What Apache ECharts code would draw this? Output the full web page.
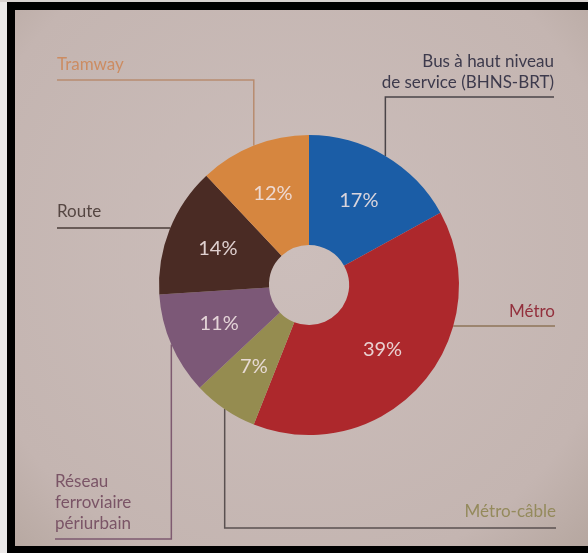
<!DOCTYPE html>
<html>
<head>
<meta charset="utf-8">
<script src="https://cdn.jsdelivr.net/npm/echarts@6/dist/echarts.min.js"></script>
<style>
html, body { margin: 0; padding: 0; background: #e4e0e0; }
#main { width: 588px; height: 553px; }
</style>
</head>
<body>
<div id="main"></div>
<script>
// données (sens horaire depuis le haut)
var names = ['Bus à haut niveau\nde service (BHNS-BRT)', 'Métro', 'Métro-câble', 'Réseau\nferroviaire\npériurbain', 'Route', 'Tramway'];
var values = [17, 39, 7, 11, 14, 12];

// styles
var colors = ['#1b5da6', '#ad282c', '#958c50', '#7c5877', '#4a2b24', '#d6863f'];
var textColors = ['#3d3a4c', '#93303d', '#948a5c', '#7a5466', '#554642', '#cc8c62'];
var lineColors = ['#4a4448', '#8e7458', '#5a5050', '#7e5a70', '#4a3c38', '#b88c70'];

// position des étiquettes : x ancre, bas du texte, y du trait, mode du trait
var labelPos = [
  { x: 554, y: 93, ly: 97, align: 'right', mode: 'v' },
  { x: 555, y: 322, ly: 326, align: 'right', mode: 'h' },
  { x: 556, y: 522, ly: 528, align: 'right', mode: 'v' },
  { x: 55, y: 534, ly: 539, align: 'left', mode: 'v' },
  { x: 57, y: 222, ly: 228, align: 'left', mode: 'h' },
  { x: 57, y: 75, ly: 80, align: 'left', mode: 'v' }
];

var cx = 309, cy = 285, R = 150, r0 = 40;
var font = 'Lato, "Open Sans", sans-serif';

var pieData = names.map(function (n, i) {
  return { name: n, value: values[i], itemStyle: { color: colors[i] } };
});
var labelData = names.map(function (n, i) {
  return {
    name: n, value: values[i],
    label: { color: textColors[i] },
    labelLine: { lineStyle: { color: lineColors[i] } }
  };
});

var chart = echarts.init(document.getElementById('main'));
chart.setOption({
  backgroundColor: {
    type: 'radial', x: 0.5, y: 0.45, r: 0.8,
    colorStops: [{ offset: 0, color: '#ccbebb' }, { offset: 0.75, color: '#c4b5b1' }, { offset: 1, color: '#b2a39b' }]
  },
  animation: false,
  graphic: [
    { type: 'rect', shape: { x: 0, y: 0, width: 7, height: 553 }, style: { fill: '#ebe8e8' }, z: 100 },
    { type: 'rect', shape: { x: 0, y: 0, width: 588, height: 2 }, style: { fill: '#d8d2d0' }, z: 100 },
    { type: 'rect', shape: { x: 7, y: 2, width: 8, height: 551 }, style: { fill: '#000' }, z: 100 },
    { type: 'rect', shape: { x: 7, y: 2, width: 581, height: 8 }, style: { fill: '#000' }, z: 100 },
    { type: 'rect', shape: { x: 7, y: 546, width: 581, height: 7 }, style: { fill: '#000' }, z: 100 }
  ],
  series: [
    {
      type: 'pie',
      center: [cx, cy],
      radius: [r0, R],
      startAngle: 90,
      clockwise: true,
      silent: true,
      label: {
        position: 'inside',
        formatter: '{c}%',
        color: '#efe2e2',
        fontFamily: font,
        fontSize: 20,
        opacity: 0.9
      },
      labelLine: { show: false },
      data: pieData
    },
    {
      type: 'pie',
      center: [cx, cy],
      radius: [r0, R],
      startAngle: 90,
      clockwise: true,
      silent: true,
      itemStyle: { color: 'rgba(0,0,0,0)' },
      label: {
        position: 'outside',
        fontFamily: font,
        fontSize: 17,
        lineHeight: 21,
        formatter: '{b}'
      },
      labelLine: { show: true, length: 10, length2: 10, lineStyle: { width: 1.5 } },
      labelLayout: function (p) {
        var L = labelPos[p.dataIndex];
        var edge = p.labelLinePoints ? p.labelLinePoints[0] : [cx, cy];
        var pts;
        if (L.mode === 'h') {
          var dy = L.ly - cy;
          var ex = Math.sqrt(R * R - dy * dy);
          var px = L.align === 'left' ? cx - ex : cx + ex;
          pts = [[px, L.ly], [px, L.ly], [L.x, L.ly]];
        } else {
          pts = [edge, [edge[0], L.ly], [L.x, L.ly]];
        }
        return {
          x: L.x, y: L.y,
          align: L.align,
          verticalAlign: 'bottom',
          labelLinePoints: pts
        };
      },
      data: labelData
    }
  ]
});
</script>
</body>
</html>
